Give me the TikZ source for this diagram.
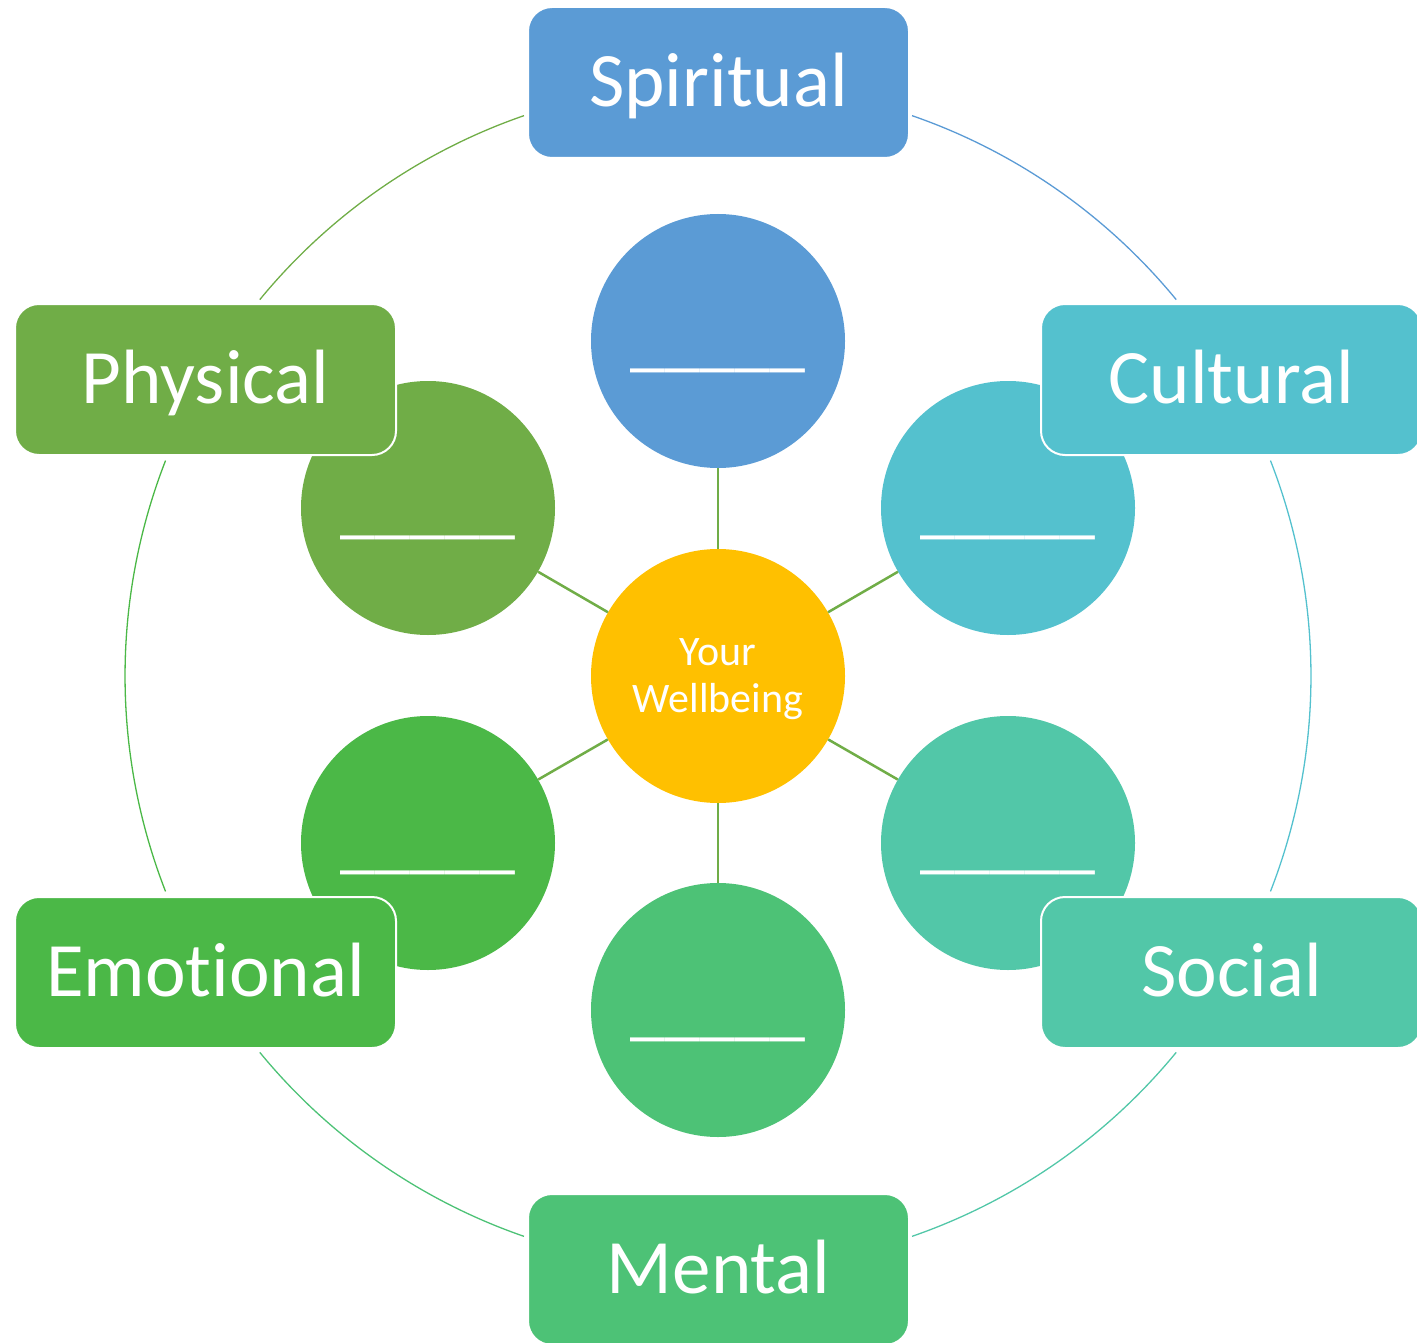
\documentclass[tikz,border=0pt]{standalone}
\usepackage{fontspec}
\setmainfont[Ligatures=NoCommon]{Carlito}
\definecolor{spirit}{HTML}{5B9BD5}
\definecolor{cultur}{HTML}{54C1CE}
\definecolor{social}{HTML}{52C7A8}
\definecolor{mental}{HTML}{4DC276}
\definecolor{emotio}{HTML}{4BB847}
\definecolor{physic}{HTML}{70AD47}
\definecolor{core}{HTML}{FFC000}
\begin{document}
\begin{tikzpicture}[x=1pt,y=-1pt,
  label box/.style={rounded corners=24pt, draw=white, line width=2pt,
    minimum width=381pt, minimum height=151pt, inner sep=0pt,
    text=white, font=\fontsize{77}{88}\selectfont,
    text height=48pt, text depth=0pt},
  disc/.style={circle, minimum size=254pt, inner sep=0pt, text=white,
    font=\fontsize{70}{80}\selectfont, text height=44pt, text depth=0pt},
  spoke/.style={physic, line width=2.5pt},
  ring/.style={line width=1.3pt}]
\useasboundingbox (0,0) rectangle (1417,1343);
\clip (0,0) rectangle (1417,1343);

\coordinate (ctr) at (718,676);

% outer ring, one arc per gap between the labels
\draw[ring, physic] ([shift={(-109.1:593)}]ctr) arc[start angle=-109.1, end angle=-140.6, radius=593];
\draw[ring, spirit] ([shift={(-39.4:593)}]ctr) arc[start angle=-39.4, end angle=-70.9, radius=593];
\draw[ring, cultur] ([shift={(21.3:593)}]ctr) arc[start angle=21.3, end angle=-21.3, radius=593];
\draw[ring, social] ([shift={(70.9:593)}]ctr) arc[start angle=70.9, end angle=39.4, radius=593];
\draw[ring, mental] ([shift={(140.6:593)}]ctr) arc[start angle=140.6, end angle=109.1, radius=593];
\draw[ring, emotio] ([shift={(201.3:593)}]ctr) arc[start angle=201.3, end angle=158.7, radius=593];

% hub and the six satellite discs
\node[circle, minimum size=254pt, inner sep=0pt, fill=core] (hub) at (ctr) {};
\node[text=white, align=center, font=\fontsize{42}{47}\selectfont]
  (hubtext) at (718,679) {Your\\Wellbeing};
\node[disc, fill=spirit] (dsp) at (718,341) {\_\_\_\_\_};
\node[disc, fill=cultur] (dcu) at (1008,508) {\_\_\_\_\_};
\node[disc, fill=social] (dso) at (1008,843) {\_\_\_\_\_};
\node[disc, fill=mental] (dme) at (718,1010) {\_\_\_\_\_};
\node[disc, fill=emotio] (dem) at (428,843) {\_\_\_\_\_};
\node[disc, fill=physic] (dph) at (428,508) {\_\_\_\_\_};

\foreach \d in {dsp,dcu,dso,dme,dem,dph}
  \draw[spoke] (hub) -- (\d);

% labels
\node[label box, fill=spirit] (lsp) at (718.5,82.5) {Spiritual};
\node[label box, fill=physic] (lph) at (205.5,379.5) {Physical};
\node[label box, fill=cultur] (lcu) at (1231.5,379.5) {Cultural};
\node[label box, fill=emotio] (lem) at (205.5,972.5) {Emotional};
\node[label box, fill=social] (lso) at (1231.5,972.5) {Social};
\node[label box, fill=mental] (lme) at (718.5,1269.5) {Mental};
\end{tikzpicture}
\end{document}
